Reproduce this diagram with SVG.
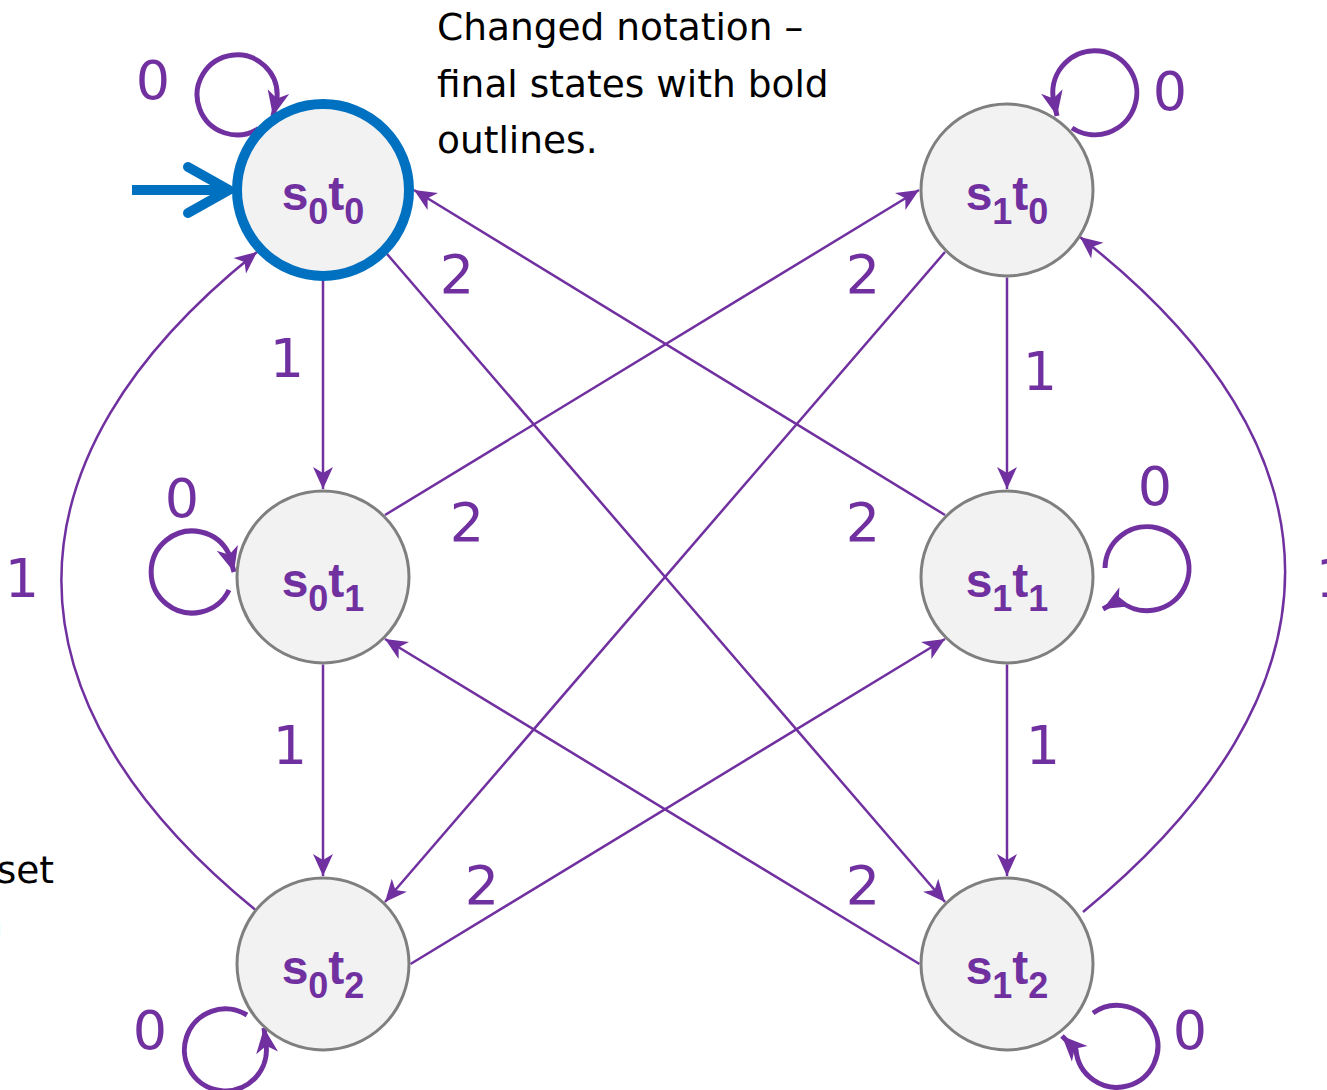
<svg xmlns="http://www.w3.org/2000/svg" width="1327" height="1090" viewBox="0 0 1327 1090">
<style>
.node{fill:#F2F2F2;stroke:#7F7F7F;stroke-width:3}
.final{fill:#F2F2F2;stroke:#0070C0;stroke-width:10}
.nl{font-family:"Liberation Sans",Arial,sans-serif;font-weight:bold;font-size:48px;fill:#7030A0}
.sub{font-size:36px}
.edge{fill:none;stroke:#7030A0;stroke-width:2.5;marker-end:url(#arr)}
.loop{fill:none;stroke:#7030A0;stroke-width:5;marker-end:url(#arrL)}
.el{font-family:"DejaVu Sans","Liberation Sans",sans-serif;font-size:54px;fill:#7030A0;text-anchor:middle}
.note{font-family:"DejaVu Sans","Liberation Sans",sans-serif;font-size:37.5px;fill:#000000}
</style>
<defs>
<marker id="arr" markerUnits="userSpaceOnUse" markerWidth="24" markerHeight="22" refX="22" refY="10" orient="auto" overflow="visible">
<path d="M0,0 L22,10 L0,20 L6,10 Z" fill="#7030A0"/>
</marker>
<marker id="arrL" markerUnits="userSpaceOnUse" markerWidth="28" markerHeight="24" refX="25" refY="11" orient="auto" overflow="visible">
<path d="M0,0 L25,11 L0,22 L7,11 Z" fill="#7030A0"/>
</marker>
</defs>

<g id="connectors">
<path class="edge" d="M323,281 L323,489"/>
<path class="edge" d="M323,664.5 L323,876"/>
<path class="edge" d="M1007,277.5 L1007,489"/>
<path class="edge" d="M1007,664.5 L1007,876"/>
<path class="edge" d="M387,254 L945,902"/>
<path class="edge" d="M945,252 L385,902"/>
<path class="edge" d="M945,515 L414,190"/>
<path class="edge" d="M385,515 L919,190"/>
<path class="edge" d="M919.5,964 L385,639"/>
<path class="edge" d="M410.5,964 L945,639"/>
<path class="edge" d="M258,912 C-4,700 -4,460 257,252"/>
<path class="edge" d="M1083,912 C1353,690 1353,450 1080,237"/>
<path class="loop" d="M258.5,128.7 A40,40 0 1 1 277,98 L273,116"/>
<path class="loop" d="M1072,128 A42,42 0 1 0 1053,97 L1057,116"/>
<path class="loop" d="M229,590 A41,41 0 1 1 229,554 L234,572"/>
<path class="loop" d="M1105,568 A42,42 0 1 1 1119,600 L1103,609"/>
<path class="loop" d="M247,1015 A41,41 0 1 0 266,1044 L264,1028"/>
<path class="loop" d="M1093,1013 A41,41 0 1 1 1076,1050 L1062,1036"/>
<path d="M132,190 L225,190" fill="none" stroke="#0070C0" stroke-width="10"/>
<path d="M188,167 L229,190 L188,213" fill="none" stroke="#0070C0" stroke-width="10" stroke-linecap="round" stroke-linejoin="round"/>
</g>

<g id="s0t0">
<circle class="final" cx="323" cy="190" r="86"/>
<text class="nl" x="323" y="210" text-anchor="middle">s<tspan class="sub" dy="14">0</tspan><tspan dy="-14">t</tspan><tspan class="sub" dy="14">0</tspan></text>
</g>
<g id="s1t0">
<circle class="node" cx="1007" cy="190" r="86"/>
<text class="nl" x="1007" y="210" text-anchor="middle">s<tspan class="sub" dy="14">1</tspan><tspan dy="-14">t</tspan><tspan class="sub" dy="14">0</tspan></text>
</g>
<g id="s0t1">
<circle class="node" cx="323" cy="577" r="86"/>
<text class="nl" x="323" y="597" text-anchor="middle">s<tspan class="sub" dy="14">0</tspan><tspan dy="-14">t</tspan><tspan class="sub" dy="14">1</tspan></text>
</g>
<g id="s1t1">
<circle class="node" cx="1007" cy="577" r="86"/>
<text class="nl" x="1007" y="597" text-anchor="middle">s<tspan class="sub" dy="14">1</tspan><tspan dy="-14">t</tspan><tspan class="sub" dy="14">1</tspan></text>
</g>
<g id="s0t2">
<circle class="node" cx="323" cy="964" r="86"/>
<text class="nl" x="323" y="984" text-anchor="middle">s<tspan class="sub" dy="14">0</tspan><tspan dy="-14">t</tspan><tspan class="sub" dy="14">2</tspan></text>
</g>
<g id="s1t2">
<circle class="node" cx="1007" cy="964" r="86"/>
<text class="nl" x="1007" y="984" text-anchor="middle">s<tspan class="sub" dy="14">1</tspan><tspan dy="-14">t</tspan><tspan class="sub" dy="14">2</tspan></text>
</g>

<g id="edge-labels">
<text class="el" x="153" y="99">0</text>
<text class="el" x="287" y="377">1</text>
<text class="el" x="457" y="293">2</text>
<text class="el" x="863" y="293">2</text>
<text class="el" x="1170" y="110">0</text>
<text class="el" x="1040" y="390">1</text>
<text class="el" x="182" y="517">0</text>
<text class="el" x="467" y="541">2</text>
<text class="el" x="863" y="541">2</text>
<text class="el" x="1155" y="505">0</text>
<text class="el" x="22" y="597">1</text>
<text class="el" x="1333" y="597">1</text>
<text class="el" x="290" y="764">1</text>
<text class="el" x="1043" y="764">1</text>
<text class="el" x="482" y="904">2</text>
<text class="el" x="863" y="904">2</text>
<text class="el" x="150" y="1049">0</text>
<text class="el" x="1190" y="1049">0</text>
</g>

<g id="notes">
<text class="note" x="437" y="40">Changed notation –</text>
<text class="note" x="437" y="97">final states with bold</text>
<text class="note" x="437" y="153">outlines.</text>
<text class="note" x="54" y="883" text-anchor="end">set</text>
<text class="note" x="3" y="938" text-anchor="end">a</text>
</g>
</svg>
